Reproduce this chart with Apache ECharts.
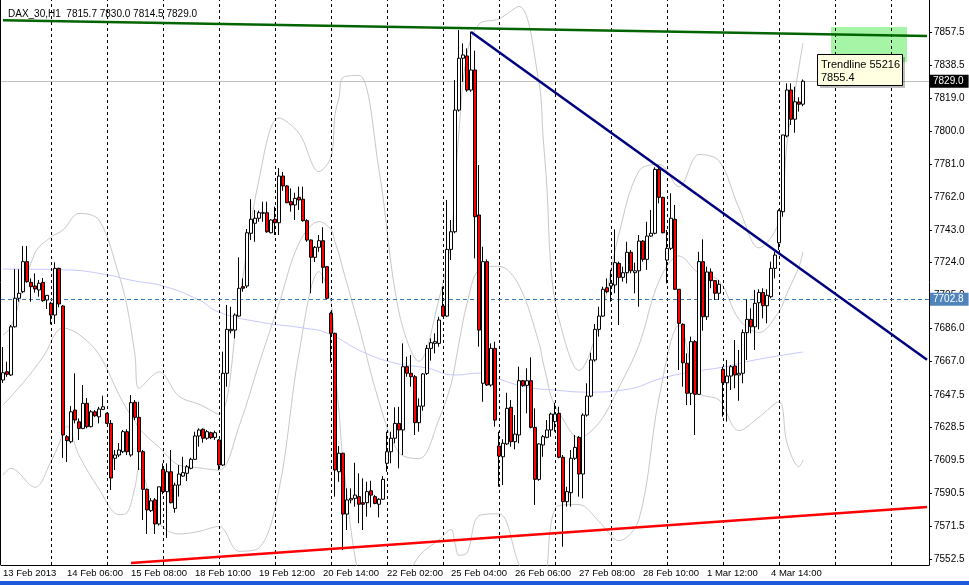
<!DOCTYPE html>
<html><head><meta charset="utf-8">
<script src="https://cdn.jsdelivr.net/npm/echarts@6/dist/echarts.min.js"></script>
<style>html,body{margin:0;padding:0;background:#fff}#c{width:969px;height:585px}</style>
</head><body><div id="c"></div><script>
// ---------- data ----------
const chartTitle = 'DAX_30,H1  7815.7 7830.0 7814.5 7829.0';
const slotCount = 232; // hourly slots incl. empty shift area on the right
const xTickLabels = ['13 Feb 2013','14 Feb 06:00','15 Feb 08:00','18 Feb 10:00','19 Feb 12:00','20 Feb 14:00','22 Feb 02:00','25 Feb 04:00','26 Feb 06:00','27 Feb 08:00','28 Feb 10:00','1 Mar 12:00','4 Mar 14:00'];
const yTickValues = [7857.5,7838.5,7819.0,7800.0,7781.0,7762.0,7743.0,7724.0,7705.0,7686.0,7667.0,7647.5,7628.5,7609.5,7590.5,7571.5,7552.5];
// hourly bars: [open, close, low, high]
const bars = [
[7656.1,7660.3,7654.4,7675.2],[7660.9,7659.4,7658.0,7666.7],[7659.0,7686.9,7658.4,7687.9],[7686.9,7703.4,7686.5,7720.3],
[7703.4,7706.3,7701.4,7720.2],[7707.2,7724.6,7706.4,7733.6],[7724.6,7713.0,7712.4,7733.6],[7712.6,7710.1,7701.4,7714.9],
[7710.5,7708.8,7706.6,7717.8],[7708.2,7712.1,7704.3,7714.0],[7712.6,7702.0,7701.4,7715.1],[7702.4,7705.1,7697.2,7705.3],
[7700.5,7693.7,7688.3,7701.4],[7693.7,7720.7,7688.5,7724.2],[7720.7,7700.1,7698.2,7721.1],[7698.9,7624.3,7611.0,7699.5],
[7623.3,7621.0,7608.6,7624.3],[7620.4,7637.7,7619.5,7641.0],[7638.7,7632.9,7631.0,7660.0],[7631.9,7628.1,7621.4,7633.9],
[7628.1,7642.6,7627.6,7653.2],[7642.6,7629.1,7628.1,7645.7],[7629.1,7637.7,7628.7,7638.7],[7637.7,7635.4,7634.8,7638.7],
[7634.8,7639.3,7631.0,7640.6],[7639.1,7640.6,7638.7,7647.0],[7636.8,7631.0,7630.6,7637.2],[7631.0,7599.4,7592.4,7632.9],
[7610.8,7612.7,7604.0,7615.6],[7612.7,7615.6,7611.5,7619.6],[7614.6,7626.2,7613.8,7627.2],[7626.2,7614.6,7612.7,7627.6],
[7612.7,7643.0,7611.7,7647.4],[7643.2,7634.5,7632.9,7644.5],[7634.5,7614.6,7604.0,7643.5],[7614.6,7592.8,7575.1,7615.6],
[7592.8,7580.9,7567.0,7593.4],[7580.5,7586.2,7579.7,7587.8],[7586.7,7572.8,7567.0,7587.8],[7572.8,7594.3,7571.8,7594.3],
[7604.4,7591.5,7590.0,7607.9],[7591.5,7603.0,7564.7,7607.9],[7603.0,7585.1,7584.7,7615.6],[7581.8,7595.3,7579.3,7596.7],
[7595.3,7601.7,7588.6,7606.9],[7600.5,7602.5,7600.1,7611.7],[7602.1,7605.9,7597.6,7606.9],[7605.0,7610.2,7604.4,7611.1],
[7610.2,7623.7,7609.8,7626.2],[7623.7,7627.2,7617.5,7628.1],[7627.6,7622.4,7619.8,7628.1],[7622.4,7626.2,7621.5,7627.2],
[7625.6,7622.7,7621.9,7626.2],[7622.9,7625.6,7621.5,7626.8],[7621.4,7606.9,7604.0,7621.9],[7606.9,7660.0,7606.3,7672.5],
[7660.0,7685.4,7652.2,7699.5],[7684.6,7685.4,7683.1,7698.5],[7685.0,7693.7,7680.2,7694.7],[7693.1,7709.2,7692.7,7727.1],
[7710.1,7709.2,7707.2,7714.9],[7710.5,7741.3,7709.3,7743.5],[7741.0,7749.1,7737.1,7760.7],[7746.8,7749.7,7736.1,7754.5],
[7749.7,7752.9,7747.7,7754.1],[7752.6,7752.9,7747.7,7759.3],[7752.9,7741.9,7741.3,7759.3],[7741.3,7748.7,7741.0,7749.1],
[7749.1,7747.1,7740.0,7756.4],[7747.1,7774.1,7740.0,7778.8],[7774.1,7768.4,7765.6,7776.5],[7768.4,7758.7,7758.4,7768.9],
[7759.3,7757.4,7753.5,7767.0],[7757.4,7761.2,7748.7,7764.5],[7761.8,7760.3,7754.5,7768.0],[7760.7,7748.3,7747.7,7768.0],
[7748.3,7737.1,7736.1,7749.1],[7737.1,7727.1,7706.3,7737.5],[7727.1,7732.9,7724.4,7733.6],[7732.9,7736.7,7730.3,7740.0],
[7736.7,7721.3,7712.1,7744.5],[7721.7,7703.4,7702.8,7722.1],[7694.7,7683.1,7666.1,7695.6],[7683.1,7604.0,7588.6,7683.5],
[7603.0,7613.7,7597.2,7617.9],[7613.7,7578.5,7557.7,7614.0],[7578.5,7586.7,7569.3,7593.4],[7586.7,7587.6,7584.7,7593.4],
[7587.6,7589.5,7582.8,7608.2],[7588.6,7584.2,7573.2,7602.1],[7585.1,7584.2,7569.3,7599.2],[7585.1,7591.5,7577.0,7597.2],
[7592.0,7589.5,7582.4,7597.8],[7588.6,7584.7,7584.2,7589.5],[7584.2,7587.1,7576.6,7587.8],[7587.1,7598.6,7586.7,7600.5],
[7607.9,7614.6,7603.0,7626.2],[7614.6,7622.4,7607.9,7626.2],[7622.4,7631.0,7619.5,7640.3],[7631.0,7627.2,7605.0,7640.6],
[7627.2,7663.8,7612.7,7677.3],[7663.8,7660.0,7658.0,7669.6],[7660.0,7658.0,7652.2,7670.6],[7658.0,7631.4,7624.3,7659.0],
[7631.4,7641.0,7626.2,7645.5],[7641.0,7659.6,7638.3,7660.0],[7659.9,7674.4,7659.0,7676.4],[7674.4,7677.7,7667.3,7680.2],
[7677.3,7678.3,7671.5,7683.1],[7677.3,7690.8,7675.4,7692.7],[7698.9,7693.1,7692.7,7710.1],[7693.1,7731.7,7692.7,7760.3],
[7731.7,7741.9,7725.5,7748.7],[7741.9,7812.3,7741.0,7829.7],[7812.3,7842.3,7811.4,7858.6],[7842.3,7844.2,7828.7,7850.9],
[7843.6,7823.9,7822.9,7848.0],[7823.9,7835.5,7822.9,7857.7],[7835.5,7750.6,7726.5,7846.7],[7751.6,7685.0,7675.4,7780.5],
[7654.2,7724.6,7643.5,7733.2],[7724.6,7653.2,7652.6,7725.9],[7653.2,7674.4,7652.2,7677.3],[7674.4,7632.9,7629.1,7678.3],
[7617.9,7612.1,7594.4,7626.2],[7611.7,7619.5,7595.3,7621.8],[7619.1,7639.7,7618.5,7648.7],[7640.3,7620.4,7617.5,7644.5],
[7620.4,7624.8,7616.0,7635.8],[7624.3,7655.7,7619.5,7663.8],[7655.7,7652.9,7652.2,7656.1],[7653.0,7655.7,7636.8,7662.9],
[7655.7,7628.7,7628.1,7669.2],[7628.7,7598.6,7583.8,7639.7],[7598.6,7619.1,7597.8,7619.5],[7618.5,7623.3,7611.7,7624.3],
[7622.9,7627.2,7622.4,7632.9],[7627.2,7636.4,7623.3,7637.2],[7632.0,7636.4,7626.2,7642.9],[7636.8,7611.4,7610.8,7640.6],
[7611.4,7585.7,7559.6,7612.7],[7585.7,7591.5,7582.8,7594.3],[7590.9,7610.8,7582.8,7615.6],[7610.8,7617.1,7609.8,7624.3],
[7622.9,7601.7,7588.6,7623.7],[7601.7,7635.8,7587.6,7636.8],[7635.8,7646.8,7634.9,7654.2],[7646.8,7667.7,7646.1,7671.9],
[7667.7,7685.4,7666.7,7688.5],[7685.4,7693.1,7681.2,7698.5],[7693.1,7708.6,7692.7,7710.1],[7709.5,7707.2,7706.3,7714.9],
[7710.5,7712.1,7701.4,7719.8],[7711.1,7724.0,7706.3,7743.3],[7723.6,7715.5,7687.9,7724.6],[7715.5,7718.2,7713.0,7721.7],
[7718.2,7730.0,7712.0,7736.1],[7730.0,7719.3,7717.8,7731.3],[7718.2,7719.3,7706.3,7724.0],[7719.3,7736.5,7698.5,7740.0],
[7736.5,7725.9,7724.6,7737.1],[7725.9,7739.4,7719.8,7747.7],[7739.4,7741.0,7739.0,7754.5],[7741.0,7778.0,7740.4,7779.2],
[7778.0,7761.8,7758.3,7780.5],[7761.8,7741.3,7741.0,7762.2],[7725.5,7732.3,7712.0,7742.9],[7732.3,7749.7,7731.3,7764.1],
[7749.1,7708.6,7708.2,7757.4],[7708.6,7688.9,7661.9,7708.6],[7688.3,7666.1,7652.2,7688.9],[7665.8,7648.4,7641.6,7671.5],
[7648.4,7678.3,7641.6,7681.2],[7678.3,7647.8,7624.3,7679.2],[7647.8,7724.6,7647.4,7730.3],[7724.6,7692.7,7684.6,7737.5],
[7692.7,7718.6,7690.8,7721.7],[7718.6,7713.6,7709.2,7720.7],[7713.6,7706.3,7702.4,7714.0],[7706.3,7711.5,7702.4,7714.0],
[7662.3,7654.5,7634.9,7663.8],[7654.5,7658.4,7632.0,7667.7],[7658.4,7663.8,7650.3,7664.8],[7664.2,7659.0,7651.3,7679.2],
[7659.0,7660.0,7644.1,7673.5],[7660.0,7683.5,7654.2,7685.4],[7683.5,7691.2,7667.7,7702.8],[7691.2,7686.9,7683.1,7697.6],
[7686.9,7700.5,7673.5,7708.2],[7700.8,7706.8,7685.4,7708.6],[7706.8,7699.1,7691.8,7709.2],[7699.1,7705.1,7688.9,7708.6],
[7704.3,7720.7,7703.4,7724.6],[7720.7,7728.4,7714.9,7730.3],[7735.5,7754.1,7731.3,7754.9],[7753.5,7797.9,7750.6,7797.9],
[7797.3,7823.9,7796.5,7827.8],[7823.9,7807.0,7803.7,7827.8],[7807.0,7817.1,7799.2,7825.8],[7817.0,7815.7,7811.4,7819.7],
[7815.7,7829.0,7814.5,7830.0]
];
const daySeparators = [12,26,40,54,68,82,96,110,124,138,152,166,180,194,208,222];
const trendGreen = [[0,7864.3],[231,7855.2]];
const trendBlue = [[117,7857.5],[231,7667.8]];
const trendRed = [[32,7550.2],[231,7582.6]];
const bidPrice = 7829.0;
const levelPrice = 7702.8;
const targetZone = [[207,7860.4],[226,7840.1]];
const movingAvg = [[0,7720.3],[16,7719.8],[25,7717.4],[33,7713.4],[40,7710.5],[49,7702.4],[54,7695.4],[64,7689.7],[75,7686.2],[81,7683.3],[90,7672.3],[98,7665.9],[106,7663.0],[113,7659.0],[119,7660.1],[123,7657.3],[131,7652.0],[138,7650.3],[146,7649.1],[155,7650.3],[165,7657.3],[172,7660.7],[180,7663.6],[188,7667.7],[200,7672.3]];
// Bollinger band lines: [bar index, price]
const bandUpper = [[0,7682.1],[2,7686.8],[8,7729.6],[12,7738.8],[15,7742.9],[19,7752.5],[24,7748.7],[29,7716.7],[31,7698.9],[33,7670.5],[34,7651.2],[39,7660.8],[44,7646.6],[49,7642.1],[54,7636.3],[59,7701.4],[64,7772.1],[69,7807.8],[74,7798.9],[79,7776.7],[82,7785.2],[83,7809.7],[84,7819.5],[85,7831.2],[89,7832.4],[94,7777.6],[99,7695.3],[104,7666.9],[109,7702.9],[112,7737.2],[113,7767.9],[114,7800.3],[116,7844.5],[119,7862.0],[124,7865.1],[129,7872.3],[134,7828.0],[135,7797.5],[136,7766.9],[137,7720.5],[139,7691.2],[144,7661.6],[149,7688.3],[154,7740.7],[159,7777.1],[164,7780.9],[169,7767.9],[174,7786.6],[179,7782.9],[184,7755.6],[189,7732.6],[194,7747.9],[196,7792.9],[199,7837.5],[200,7851.0]];
const bandMiddle = [[0,7641.6],[5,7654.4],[10,7669.4],[15,7686.2],[19,7682.5],[24,7670.9],[29,7647.5],[31,7639.1],[33,7632.3],[34,7628.0],[39,7617.2],[44,7606.8],[49,7605.3],[54,7603.9],[59,7629.2],[64,7665.5],[69,7700.2],[74,7735.3],[79,7747.8],[82,7743.2],[83,7735.9],[84,7728.9],[85,7720.2],[89,7687.0],[94,7643.6],[99,7614.1],[104,7610.6],[109,7633.3],[112,7653.4],[113,7664.7],[114,7677.5],[116,7700.3],[119,7719.8],[124,7721.9],[129,7710.9],[134,7677.6],[135,7666.5],[136,7656.7],[137,7646.7],[139,7637.4],[144,7622.8],[149,7631.3],[154,7651.9],[159,7676.3],[164,7713.3],[169,7727.9],[174,7717.8],[179,7713.7],[184,7691.2],[189,7683.6],[194,7695.7],[196,7706.3],[199,7721.7],[200,7730.4]];
const bandLower = [[0,7601.1],[2,7605.0],[8,7594.0],[12,7609.0],[14,7619.0],[16,7629.4],[19,7612.5],[24,7593.1],[29,7578.2],[31,7579.3],[33,7594.1],[34,7604.8],[39,7573.6],[44,7567.0],[49,7568.5],[54,7571.4],[59,7557.0],[64,7558.9],[69,7592.6],[74,7671.7],[79,7718.8],[82,7701.2],[83,7662.1],[84,7638.3],[85,7609.2],[89,7541.6],[94,7509.6],[99,7532.9],[104,7554.2],[109,7563.7],[112,7569.6],[113,7561.5],[114,7554.7],[116,7556.0],[119,7577.6],[124,7578.7],[129,7549.5],[134,7527.2],[135,7535.5],[136,7546.5],[137,7572.9],[139,7583.5],[144,7584.0],[149,7574.3],[154,7563.1],[159,7575.5],[164,7645.7],[169,7687.9],[174,7649.0],[179,7644.5],[184,7626.8],[189,7634.6],[194,7643.5],[196,7619.7],[199,7605.9],[200,7609.8]];
const trendTip = ['Trendline 55216','7855.4'];

// ---------- chart ----------
const FONT = 'Liberation Sans, Arial, sans-serif';
const slotIds = Array.from({length: slotCount}, (_, i) => String(i));
const bandStyle = {color: '#c8c8c8', width: 1};
const chart = echarts.init(document.getElementById('c'), null, {renderer: 'canvas'});
chart.setOption({
  animation: false,
  backgroundColor: '#ffffff',
  title: {text: chartTitle, left: 3, top: 4, textStyle: {fontFamily: FONT, fontSize: 10, fontWeight: 'normal', color: '#000'}},
  grid: {left: 0, right: 40, top: 0, bottom: 20, containLabel: false},
  xAxis: {
    type: 'category', data: slotIds, boundaryGap: true,
    axisLine: {lineStyle: {color: '#000', width: 1}},
    axisTick: {alignWithLabel: true, interval: 15, length: 4, lineStyle: {color: '#000'}},
    axisLabel: {interval: 15, align: 'left', margin: 3, fontFamily: FONT, fontSize: 9.5, color: '#000',
      formatter: (v, idx) => xTickLabels[idx / 16] || ''},
    splitLine: {show: false}
  },
  yAxis: {
    type: 'value', position: 'right', min: 7549.05, max: 7876.0, scale: true,
    axisLine: {show: true, lineStyle: {color: '#000', width: 1}},
    axisTick: {show: true, customValues: yTickValues, length: 3, lineStyle: {color: '#000'}},
    axisLabel: {customValues: yTickValues, margin: 5, fontFamily: FONT, fontSize: 10, color: '#000',
      formatter: v => Number(v).toFixed(1)},
    splitLine: {show: false}
  },
  series: [
    {type: 'line', name: 'zone', data: [], silent: true, z: 1,
      markArea: {silent: true, itemStyle: {color: '#a6f4a6'},
        data: [[{coord: targetZone[0]}, {coord: targetZone[1]}]]}},
    {type: 'line', name: 'BB upper', data: bandUpper, smooth: 0.35, symbol: 'none', silent: true, z: 2, clip: true, lineStyle: bandStyle},
    {type: 'line', name: 'BB middle', data: bandMiddle, smooth: 0.35, symbol: 'none', silent: true, z: 2, clip: true, lineStyle: bandStyle},
    {type: 'line', name: 'BB lower', data: bandLower, smooth: 0.35, symbol: 'none', silent: true, z: 2, clip: true, lineStyle: bandStyle},
    {type: 'line', name: 'MA', data: movingAvg, smooth: true, symbol: 'none', silent: true, z: 2,
      lineStyle: {color: '#c8c8ff', width: 1}},
    {type: 'line', name: 'separators', data: [], silent: true, z: 3,
      markLine: {silent: true, symbol: 'none', label: {show: false},
        lineStyle: {color: '#000', width: 1, type: [3, 3]},
        data: daySeparators.map(i => ({xAxis: i}))}},
    {type: 'line', name: 'levels', data: [], silent: true, z: 3,
      markLine: {silent: true, symbol: 'none',
        data: [
          {yAxis: bidPrice, lineStyle: {color: '#c0c0c0', width: 1, type: 'solid'},
            label: {show: true, position: 'end', distance: 1, formatter: bidPrice.toFixed(1), backgroundColor: '#000', color: '#fff',
              fontFamily: FONT, fontSize: 10, padding: [2, 5, 1, 3]}},
          {yAxis: levelPrice, lineStyle: {color: '#3d7ab8', width: 1, type: [4, 3]},
            label: {show: true, position: 'end', distance: 1, formatter: levelPrice.toFixed(1), backgroundColor: '#4f84bb', color: '#fff',
              fontFamily: FONT, fontSize: 10, padding: [2, 5, 1, 3]}}
        ]}},
    {type: 'candlestick', name: 'DAX_30,H1', data: bars, barWidth: 3, z: 5,
      itemStyle: {color: '#ffffff', color0: '#ff0000', borderColor: '#000', borderColor0: '#000', borderColorDoji: '#000', borderWidth: 1}},
    {type: 'line', name: 'support', data: trendRed, symbol: 'none', silent: true, z: 6, lineStyle: {color: '#ff0000', width: 2.5}},
    {type: 'line', name: 'resistance', data: trendBlue, symbol: 'none', silent: true, z: 6, lineStyle: {color: '#000080', width: 2.5}},
    {type: 'line', name: 'top', data: trendGreen, symbol: 'none', silent: true, z: 6, lineStyle: {color: '#006400', width: 2.5}}
  ],
  graphic: [
    {type: 'line', shape: {x1: 0.5, y1: 0, x2: 0.5, y2: 565}, style: {stroke: '#000', lineWidth: 1}, z: 10},
    {type: 'rect', shape: {x: 0, y: 581, width: 969, height: 4}, style: {fill: '#1c5adb'}, z: 10},
    {type: 'rect', shape: {x: 820, y: 57, width: 85, height: 31}, style: {fill: 'rgba(0,0,0,0.25)'}, z: 20},
    {type: 'rect', shape: {x: 817.5, y: 54.5, width: 85, height: 31}, style: {fill: '#ffffe1', stroke: '#000', lineWidth: 1}, z: 21},
    {type: 'text', x: 821, y: 58, style: {text: trendTip.join('\n'), font: '11px ' + FONT, fill: '#000', lineHeight: 13}, z: 22}
  ]
});
</script></body></html>
